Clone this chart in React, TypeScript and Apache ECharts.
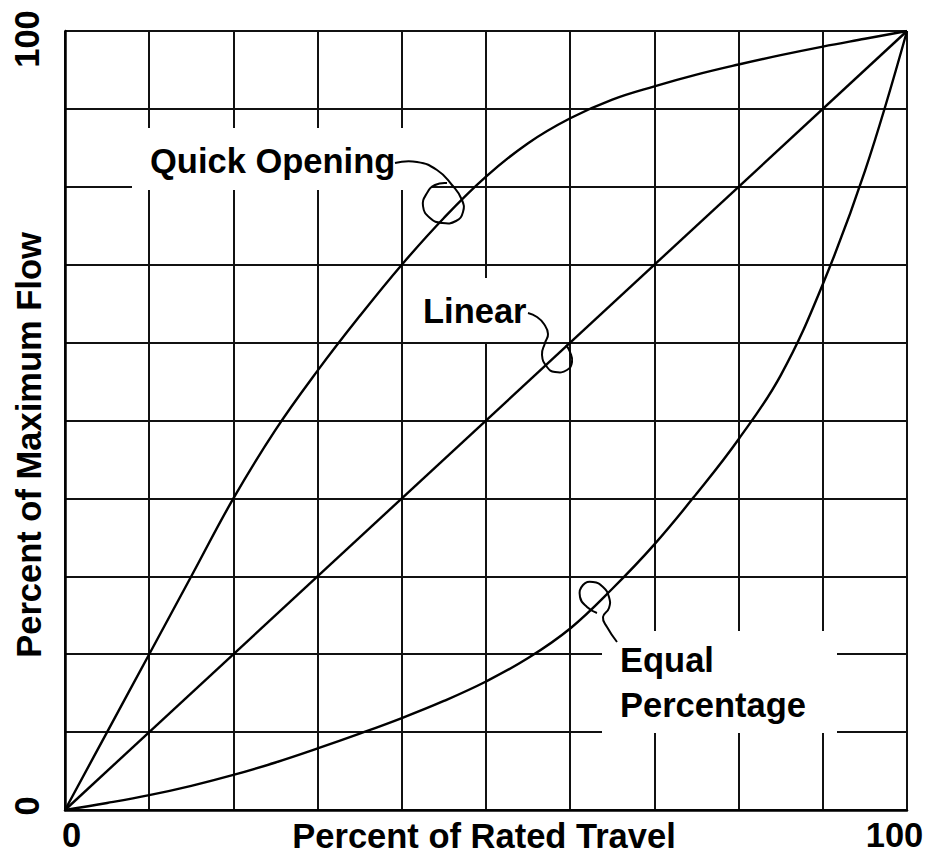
import React, { useEffect, useRef } from "react";
import * as echarts from "echarts";

// ---- data ----
const quickOpening: [number, number][] = [
  [0, 0], [5, 10], [10, 20], [15, 30], [20, 40], [25, 48.8], [30, 56.4], [35, 63.4],
  [40, 70], [45, 76], [50, 81.3], [55, 85.6], [60, 88.8], [65, 91.2], [70, 92.9],
  [75, 94.4], [80, 95.7], [85, 96.9], [90, 98], [95, 99], [100, 100],
];
const linear: [number, number][] = [[0, 0], [100, 100]];
const equalPercentage: [number, number][] = [
  [0, 0], [5, 0.9], [10, 1.9], [15, 3.1], [20, 4.5], [25, 6.1], [30, 7.9], [35, 9.8],
  [40, 11.8], [45, 14.0], [50, 16.5], [55, 19.5], [60, 23.3], [65, 28.4], [70, 34.1],
  [75, 40.6], [80, 47.6], [85, 55.8], [90, 67.5], [95, 82], [100, 100],
];
const tickLabels: number[] = [0, 100];
const xTitle = "Percent of Rated Travel";
const yTitle = "Percent of Maximum Flow";
const labels = { quick: "Quick Opening", linear: "Linear", equal1: "Equal", equal2: "Percentage" };

const FONT = '"Liberation Sans", Arial, Helvetica, sans-serif';
const FS = 34.5;

export default function App() {
  const ref = useRef<HTMLDivElement>(null);
  useEffect(() => {
    if (!ref.current) return;
    const chart = echarts.init(ref.current, null, { renderer: "svg" });
    const txt = (text: string, x: number, y: number, extra: any = {}) => ({
      type: "text",
      z: 10,
      x,
      y,
      style: {
        text,
        fill: "#000",
        fontSize: FS,
        fontWeight: "bold",
        fontFamily: FONT,
        textAlign: "left",
        textVerticalAlign: "middle",
        ...extra,
      },
    });
    const rect = (x: number, y: number, w: number, h: number) => ({
      type: "rect",
      z: 1,
      shape: { x, y, width: w, height: h },
      style: { fill: "#fff" },
    });
    const curl = (pts: number[][]) => ({
      type: "polyline",
      z: 10,
      shape: { points: pts, smooth: 0.5 },
      style: { stroke: "#000", lineWidth: 2, fill: "none" },
    });
    const xLabel = (v: number) => {
      if (v === 0) return "{l|0}";
      if (v === 100) return "{r|100}";
      return "";
    };
    const yLabel = (v: number) => {
      if (v === 0) return "{b|0}";
      if (v === 100) return "{t|100}";
      return "";
    };
    const lblStyle = { fontSize: FS, fontWeight: "bold", fontFamily: FONT, color: "#000", lineHeight: 30 };
    const curveStyle = { color: "#000", width: 2.4 };
    chart.setOption({
      animation: false,
      backgroundColor: "#fff",
      grid: { left: 65, right: 19, top: 31, bottom: 44, containLabel: false, outerBoundsMode: "none" },
      xAxis: {
        type: "value",
        min: 0,
        max: 100,
        interval: 10,
        axisLine: { show: true, lineStyle: { color: "#000", width: 2.5 } },
        axisTick: { show: false },
        splitLine: { show: true, lineStyle: { color: "#111", width: 2 } },
        axisLabel: {
          show: true,
          margin: 10,
          ...lblStyle,
          formatter: (v: number) => (tickLabels.includes(v) ? xLabel(v) : ""),
          rich: {
            l: { ...lblStyle, padding: [0, 0, 0, 13] },
            r: { ...lblStyle, padding: [0, 25, 0, 0] },
          },
        },
      },
      yAxis: {
        type: "value",
        min: 0,
        max: 100,
        interval: 10,
        axisLine: { show: true, lineStyle: { color: "#000", width: 2.5 } },
        axisTick: { show: false },
        splitLine: { show: true, lineStyle: { color: "#111", width: 2 } },
        axisLabel: {
          show: true,
          rotate: 90,
          margin: 23,
          ...lblStyle,
          formatter: (v: number) => (tickLabels.includes(v) ? yLabel(v) : ""),
          rich: {
            b: { ...lblStyle, padding: [0, 0, 0, 8] },
            t: { ...lblStyle, padding: [0, 16, 0, 0] },
          },
        },
      },
      series: [
        {
          name: labels.quick,
          type: "line",
          data: quickOpening,
          smooth: 0.4,
          showSymbol: false,
          z: 3,
          lineStyle: curveStyle,
        },
        {
          name: labels.linear,
          type: "line",
          data: linear,
          showSymbol: false,
          z: 3,
          lineStyle: curveStyle,
        },
        {
          name: labels.equal1 + " " + labels.equal2,
          type: "line",
          data: equalPercentage,
          smooth: 0.4,
          showSymbol: false,
          z: 3,
          lineStyle: curveStyle,
        },
      ],
      graphic: [
        rect(132, 128, 300, 62),
        rect(410, 278, 125, 64),
        rect(602, 631, 235, 102),
        txt(labels.quick, 150, 161),
        txt(labels.linear, 423, 311),
        txt(labels.equal1, 620, 660),
        txt(labels.equal2, 620, 705),
        txt(xTitle, 484, 836, { textAlign: "center", lineHeight: 30 }),
        {
          type: "text",
          z: 10,
          x: 29,
          y: 445,
          rotation: Math.PI / 2,
          style: {
            text: yTitle,
            fill: "#000",
            fontSize: FS,
            fontWeight: "bold",
            fontFamily: FONT,
            textAlign: "center",
            textVerticalAlign: "middle",
          },
        },
        curl([[395, 163], [417, 162], [437, 170], [452, 185], [462, 200], [463, 212], [456, 221], [442, 223], [430, 218], [423, 206], [427, 193], [435, 185], [447, 183]]),
        curl([[528, 313], [537, 317], [544, 324], [548, 334], [545, 343], [542, 355], [547, 367], [555, 372], [567, 370], [572, 362], [570, 352], [566, 345]]),
        curl([[617, 642], [607, 627], [603, 617], [609, 608], [609, 597], [603, 587], [593, 582], [583, 585], [580, 597], [587, 607], [597, 613]]),
      ],
    });
    return () => chart.dispose();
  }, []);
  return (
    <div
      ref={ref}
      style={{ position: "fixed", left: 0, top: 0, width: 926, height: 854, background: "#fff" }}
    />
  );
}
